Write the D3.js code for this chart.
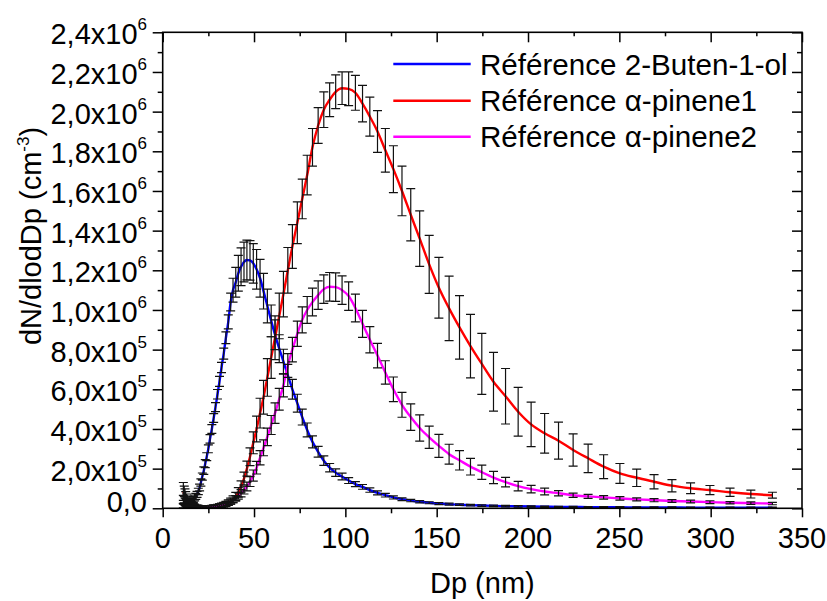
<!DOCTYPE html>
<html><head><meta charset="utf-8">
<script src="https://cdn.jsdelivr.net/npm/d3@7"></script>
<style>
body{margin:0;background:#fff}
svg{display:block}
text{font-family:"Liberation Sans",Arial,sans-serif;fill:#000}
</style>
</head><body>
<svg id="c" width="827" height="601"></svg>
<script>
// Particle diameter bins (nm)
const dp = [11.3,11.8,12.2,12.6,13.1,13.6,14.1,14.6,15.1,15.7,
16.3,16.8,17.5,18.1,18.8,19.5,20.2,20.9,21.7,22.5,
23.3,24.1,25.0,25.9,26.9,27.9,28.9,30.0,31.1,32.2,
33.4,34.6,35.9,37.2,38.5,40.0,41.4,42.9,44.5,46.1,
47.8,49.6,51.4,53.3,55.2,57.3,59.4,61.5,63.8,66.1,
68.5,71.0,73.7,76.4,79.1,82.0,85.1,88.2,91.4,94.7,
98.2,101.8,105.5,109.4,113.4,117.6,121.9,126.3,131.0,135.8,
140.7,145.9,151.2,156.8,162.5,168.5,174.7,181.1,187.7,194.6,
201.7,209.1,216.7,224.7,232.9,241.4,250.3,259.5,269.0,278.8,
289.0,299.6,310.6,322.0,333.8];

// dN/dlogDp values in units of 10^6 cm^-3
const buteneVals = [0.045,0.040,0.035,0.031,0.028,0.026,0.025,0.026,0.028,0.032,
0.038,0.045,0.052,0.060,0.070,0.085,0.105,0.130,0.160,0.190,
0.225,0.260,0.300,0.350,0.400,0.455,0.510,0.575,0.640,0.710,
0.780,0.860,0.940,1.040,1.100,1.140,1.185,1.218,1.242,1.252,
1.250,1.235,1.205,1.160,1.095,1.020,0.945,0.875,0.805,0.740,
0.670,0.600,0.530,0.460,0.395,0.335,0.285,0.240,0.205,0.180,
0.160,0.140,0.122,0.108,0.092,0.078,0.066,0.055,0.046,0.039,
0.033,0.028,0.024,0.021,0.018,0.016,0.014,0.012,0.011,0.010,
0.009,0.008,0.007,0.0065,0.006,0.0055,0.005,0.0045,0.004,0.004,
0.0035,0.0035,0.003,0.003,0.003];
const buteneErr = [0.020,0.020,0.018,0.018,0.016,0.016,0.015,0.015,0.015,0.015,
0.015,0.015,0.015,0.015,0.015,0.016,0.017,0.018,0.018,0.019,
0.020,0.020,0.020,0.021,0.022,0.022,0.023,0.024,0.025,0.026,
0.028,0.030,0.035,0.045,0.060,0.075,0.090,0.095,0.100,0.100,
0.100,0.100,0.100,0.095,0.090,0.085,0.080,0.075,0.070,0.062,
0.056,0.050,0.045,0.040,0.035,0.030,0.027,0.024,0.021,0.019,
0.017,0.015,0.013,0.012,0.011,0.010,0.009,0.008,0.007,0.006,
0.006,0.005,0.005,0.005,0.004,0.004,0.004,0.004,0.004,0.004,
0.003,0.003,0.003,0.003,0.003,0.003,0.003,0.003,0.003,0.003,
0.003,0.003,0.003,0.003,0.003];

const pinene1Vals = [0.085,0.070,0.058,0.048,0.040,0.034,0.028,0.023,0.019,0.016,
0.013,0.011,0.009,0.008,0.007,0.006,0.006,0.005,0.005,0.005,
0.005,0.005,0.005,0.006,0.006,0.007,0.008,0.010,0.012,0.015,
0.018,0.022,0.028,0.036,0.046,0.060,0.080,0.110,0.150,0.200,
0.260,0.330,0.400,0.480,0.560,0.660,0.760,0.860,0.970,1.080,
1.200,1.320,1.440,1.560,1.680,1.820,1.930,2.010,2.060,2.100,
2.118,2.115,2.095,2.040,1.975,1.900,1.805,1.710,1.600,1.480,
1.360,1.230,1.112,1.008,0.912,0.818,0.728,0.638,0.565,0.487,
0.423,0.378,0.341,0.294,0.252,0.210,0.176,0.154,0.134,0.114,
0.101,0.092,0.081,0.072,0.066];
const pinene1Err = [0.045,0.042,0.040,0.036,0.032,0.028,0.025,0.022,0.020,0.018,
0.015,0.013,0.012,0.010,0.010,0.009,0.008,0.008,0.008,0.008,
0.008,0.008,0.008,0.008,0.008,0.009,0.009,0.010,0.010,0.011,
0.012,0.013,0.014,0.015,0.017,0.020,0.024,0.028,0.032,0.038,
0.045,0.055,0.065,0.075,0.085,0.095,0.105,0.110,0.115,0.115,
0.115,0.110,0.105,0.100,0.100,0.095,0.090,0.090,0.085,0.085,
0.082,0.085,0.088,0.092,0.098,0.105,0.110,0.118,0.125,0.132,
0.140,0.146,0.153,0.163,0.160,0.160,0.154,0.148,0.140,0.123,
0.112,0.100,0.093,0.081,0.072,0.060,0.050,0.044,0.036,0.031,
0.027,0.023,0.021,0.020,0.015];

const pinene2Vals = [0.012,0.010,0.009,0.008,0.007,0.006,0.006,0.005,0.005,0.005,
0.005,0.005,0.005,0.005,0.005,0.005,0.005,0.005,0.005,0.006,
0.006,0.007,0.007,0.008,0.009,0.010,0.011,0.012,0.014,0.016,
0.018,0.021,0.025,0.032,0.040,0.050,0.062,0.076,0.092,0.110,
0.135,0.165,0.205,0.255,0.305,0.360,0.420,0.480,0.550,0.620,
0.720,0.800,0.880,0.950,1.000,1.040,1.075,1.105,1.117,1.115,
1.100,1.070,1.010,0.930,0.850,0.770,0.685,0.600,0.522,0.460,
0.405,0.358,0.315,0.273,0.242,0.210,0.182,0.155,0.132,0.112,
0.097,0.085,0.076,0.066,0.060,0.055,0.050,0.045,0.041,0.037,
0.034,0.031,0.028,0.026,0.024];
const pinene2Err = [0.010,0.010,0.009,0.008,0.008,0.007,0.007,0.006,0.006,0.006,
0.006,0.006,0.006,0.006,0.006,0.006,0.006,0.006,0.006,0.006,
0.006,0.006,0.006,0.006,0.006,0.007,0.007,0.007,0.008,0.008,
0.008,0.009,0.010,0.011,0.012,0.014,0.016,0.018,0.020,0.022,
0.025,0.028,0.032,0.036,0.040,0.044,0.048,0.052,0.055,0.058,
0.060,0.062,0.064,0.066,0.068,0.070,0.072,0.072,0.072,0.072,
0.072,0.072,0.070,0.068,0.066,0.062,0.059,0.062,0.063,0.067,
0.066,0.056,0.058,0.050,0.049,0.042,0.036,0.031,0.024,0.024,
0.019,0.017,0.013,0.011,0.010,0.009,0.009,0.008,0.008,0.007,
0.007,0.007,0.006,0.006,0.006];

const seriesNames = ["Référence 2-Buten-1-ol","Référence α-pinene1","Référence α-pinene2"];
const seriesColors = ["#0000ff","#ff0000","#ff00ff"];

const xTicks = [0,50,100,150,200,250,300,350];
const xMinor = [25,75,125,175,225,275,325];
const yTicks = [0,0.2,0.4,0.6,0.8,1.0,1.2,1.4,1.6,1.8,2.0,2.2,2.4];
const yMinor = [0.1,0.3,0.5,0.7,0.9,1.1,1.3,1.5,1.7,1.9,2.1,2.3];
const yTickMant = ["0,0","2,0","4,0","6,0","8,0","1,0","1,2","1,4","1,6","1,8","2,0","2,2","2,4"];
const yTickExp  = [null,"5","5","5","5","6","6","6","6","6","6","6","6"];

const svg = d3.select("#c");
const m = {l:162.7, r:802, t:32.3, b:508.3};
const x = d3.scaleLinear().domain([0,350]).range([m.l,m.r]);
const y = d3.scaleLinear().domain([0,2.4]).range([m.b,m.t]);

svg.append("defs").append("clipPath").attr("id","clip")
  .append("rect").attr("x",m.l).attr("y",m.t).attr("width",m.r-m.l).attr("height",m.b-m.t);

const series = [
  {vals: buteneVals, err: buteneErr},
  {vals: pinene1Vals, err: pinene1Err},
  {vals: pinene2Vals, err: pinene2Err}
].map((s,i)=>({name:seriesNames[i], color:seriesColors[i],
  pts: dp.map((d,j)=>({dp:d, v:s.vals[j], e:s.err[j]}))}));

const plot = svg.append("g").attr("clip-path","url(#clip)");
const line = d3.line().x(d=>x(d.dp)).y(d=>y(d.v)).curve(d3.curveMonotoneX);
series.forEach(s=>{
  plot.append("path").datum(s.pts).attr("d",line)
    .attr("fill","none").attr("stroke",s.color).attr("stroke-width",2.4)
    .attr("stroke-linejoin","round");
});
const cap = 4.5;
series.forEach(s=>{
  plot.append("path")
    .attr("d", s.pts.map(p=>{
      const cx=x(p.dp), y1=y(p.v+p.e), y2=y(p.v-p.e);
      return `M${cx-cap},${y1}H${cx+cap}M${cx},${y1}V${y2}M${cx-cap},${y2}H${cx+cap}`;
    }).join(""))
    .attr("fill","none").attr("stroke","#111").attr("stroke-width",1.2);
});

// axes ticks
function tickAxis(gen, tx, ty, size){
  const g = svg.append("g").attr("transform",`translate(${tx},${ty})`)
    .call(gen.tickSize(size).tickFormat(""));
  g.select(".domain").remove();
  g.selectAll("line").attr("stroke","#000").attr("stroke-width",1.5);
}
tickAxis(d3.axisBottom(x).tickValues(xTicks),0,m.b,9);
tickAxis(d3.axisBottom(x).tickValues(xMinor),0,m.b,5);
tickAxis(d3.axisBottom(x).tickValues(xTicks),0,m.t,10);
tickAxis(d3.axisBottom(x).tickValues(xMinor),0,m.t,4);
tickAxis(d3.axisLeft(y).tickValues(yTicks),m.l,0,10);
tickAxis(d3.axisLeft(y).tickValues(yMinor),m.l,0,5);
tickAxis(d3.axisLeft(y).tickValues(yTicks),m.r,0,10);
tickAxis(d3.axisLeft(y).tickValues(yMinor),m.r,0,5);

svg.append("rect").attr("x",m.l).attr("y",m.t).attr("width",m.r-m.l).attr("height",m.b-m.t)
  .attr("fill","none").attr("stroke","#000").attr("stroke-width",1.6);

// x tick labels
svg.append("g").selectAll("text").data(xTicks).join("text")
  .attr("x",d=>x(d)).attr("y",m.b+39.5).attr("text-anchor","middle")
  .attr("font-size",29).text(d=>d);

// y tick labels
yTicks.forEach((v,i)=>{
  const t = svg.append("text").attr("x",147)
    .attr("y", y(v) + (yTickExp[i] ? 12 : 4))
    .attr("text-anchor","end").attr("font-size",29);
  t.append("tspan").text(yTickMant[i] + (yTickExp[i] ? "x10" : ""));
  if (yTickExp[i]) t.append("tspan").attr("font-size",17).attr("dy",-14).text(yTickExp[i]);
});

// axis titles
svg.append("text").attr("x",(m.l+m.r)/2).attr("y",593).attr("text-anchor","middle")
  .attr("font-size",29).text("Dp (nm)");
const yt = svg.append("text").attr("transform","translate(41,236) rotate(-90)")
  .attr("text-anchor","middle").attr("font-size",29);
yt.append("tspan").text("dN/dlodDp (cm");
yt.append("tspan").attr("font-size",17).attr("dy",-12).text("-3");
yt.append("tspan").attr("dy",12).text(")");

// legend
const legY = [64,100.7,136.7];
series.forEach((s,i)=>{
  svg.append("line").attr("x1",393.3).attr("x2",470.7).attr("y1",legY[i]).attr("y2",legY[i])
    .attr("stroke",s.color).attr("stroke-width",2.4);
  svg.append("text").attr("x",480).attr("y",legY[i]+10.5).attr("font-size",29.6).text(s.name);
});
</script>
</body></html>
